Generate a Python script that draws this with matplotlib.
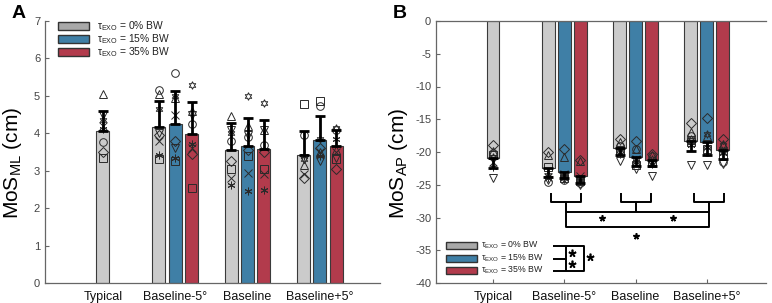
import matplotlib
matplotlib.use("Agg")
import matplotlib.pyplot as plt
from matplotlib.patches import Rectangle
import numpy as np

plt.rcParams['font.family'] = ['Liberation Sans', 'DejaVu Sans']
plt.rcParams['mathtext.fontset'] = 'custom'
plt.rcParams['mathtext.rm'] = 'Liberation Sans'
plt.rcParams['mathtext.default'] = 'regular'
plt.rcParams['axes.unicode_minus'] = False

categories = ["Typical", "Baseline-5°", "Baseline", "Baseline+5°"]
conditions = ["0% BW", "15% BW", "35% BW"]
colors = ["#cbcbcb", "#3f7fa6", "#b23b4c"]
legend_colors = ["#a9a9a9", "#3f7fa6", "#b23b4c"]

# subject markers (one per participant)
subject_markers = ['^', 'o', 's', 'D', 'v', 'x', (6, 2, 0), (6, 1, 0)]

# ---- Panel A: MoS_ML (cm) ----
ml_mean = {"Typical": [4.05],
           "Baseline-5°": [4.17, 4.25, 3.98],
           "Baseline": [3.55, 3.66, 3.58],
           "Baseline+5°": [3.42, 3.82, 3.67]}
ml_sd = {"Typical": [0.55],
         "Baseline-5°": [0.70, 0.87, 0.85],
         "Baseline": [0.73, 0.74, 0.77],
         "Baseline+5°": [0.63, 0.63, 0.43]}
# subject values, order matches subject_markers
ml_subj = {"Typical": [[5.05, 3.77, 3.33, 3.50, 4.50, 4.20, 4.12, 4.35]],
           "Baseline-5°": [[5.05, 5.15, 3.30, 3.95, 4.00, 3.80, 3.42, 4.65],
                           [4.95, 5.60, 3.25, 3.80, 3.60, 4.50, 3.35, 5.00],
                           [4.60, 4.25, 2.55, 3.45, 4.50, 3.60, 3.72, 5.30]],
           "Baseline": [[4.45, 3.80, 3.05, 3.25, 4.10, 2.80, 2.62, 4.00],
                        [4.20, 3.90, 3.40, 3.55, 3.95, 2.95, 2.47, 5.00],
                        [4.10, 3.70, 3.05, 3.50, 4.10, 2.90, 2.48, 4.82]],
           "Baseline+5°": [[3.15, 3.95, 4.78, 2.80, 3.30, 2.90, 3.40, 3.30],
                           [3.50, 4.72, 4.85, 3.60, 3.25, 3.50, 3.40, 3.85],
                           [3.55, 4.10, 3.30, 3.05, 3.35, 3.50, 3.85, 4.15]]}

# ---- Panel B: MoS_AP (cm) ----
ap_mean = {"Typical": [-20.9],
           "Baseline-5°": [-22.5, -23.0, -23.7],
           "Baseline": [-19.4, -20.7, -21.2],
           "Baseline+5°": [-18.3, -18.4, -19.7]}
ap_sd = {"Typical": [1.5],
         "Baseline-5°": [1.3, 1.0, 1.1],
         "Baseline": [1.0, 1.5, 1.0],
         "Baseline+5°": [1.5, 2.0, 1.4]}
ap_subj = {"Typical": [[-19.8, -20.2, -20.5, -19.0, -24.0, -21.5, -22.3, -20.8]],
           "Baseline-5°": [[-20.5, -24.6, -22.3, -20.0, -24.2, -23.8, -24.0, -23.5],
                           [-20.7, -24.3, -24.0, -19.6, -24.1, -23.3, -24.0, -23.8],
                           [-21.4, -24.8, -24.5, -21.2, -25.0, -23.7, -24.2, -24.4]],
           "Baseline": [[-18.5, -19.1, -19.8, -18.0, -21.3, -20.0, -20.3, -19.5],
                        [-19.5, -19.5, -22.0, -18.3, -22.6, -21.0, -21.5, -21.2],
                        [-20.5, -20.6, -21.7, -20.3, -23.6, -21.5, -21.8, -21.0]],
           "Baseline+5°": [[-17.0, -17.6, -18.5, -15.5, -22.0, -18.3, -19.0, -18.0],
                           [-17.5, -20.0, -19.5, -14.8, -22.0, -18.8, -19.3, -17.2],
                           [-18.8, -21.5, -20.5, -18.0, -21.8, -19.8, -20.2, -19.0]]}

x_pos = np.arange(1, len(categories) + 1)
offset = 0.225
width = 0.18

W, H = 772, 303
fig = plt.figure(figsize=(W / 100, H / 100), dpi=100)
axA = fig.add_axes([45/W, 20/H, 335/W, 262/H])
axB = fig.add_axes([436/W, 20/H, 330/W, 262/H])


def draw(ax, means, sds, subj, negative):
    for ci, cat in enumerate(categories):
        n = len(means[cat])
        offs = [0.0] if n == 1 else [-offset, 0.0, offset]
        for k in range(n):
            xc = x_pos[ci] + offs[k]
            m = means[cat][k]
            ax.bar(xc, m, width=width, color=colors[k], edgecolor='#3a3a3a',
                   linewidth=0.8, zorder=2)
            for mk, v in zip(subject_markers, subj[cat][k]):
                ax.plot(xc, v, marker=mk, markersize=5.5, markerfacecolor='none',
                        markeredgecolor='#2a2a2a', markeredgewidth=0.7,
                        linestyle='none', zorder=3)
            s = sds[cat][k]
            yerr = [[s], [0]] if negative else [[0], [s]]
            ax.errorbar(xc, m, yerr=yerr, fmt='none', ecolor='black',
                        elinewidth=2, capsize=3.5, capthick=2, zorder=4)


draw(axA, ml_mean, ml_sd, ml_subj, False)
draw(axB, ap_mean, ap_sd, ap_subj, True)

for ax in (axA, axB):
    ax.set_xlim(0.2, 4.83)
    ax.set_xticks(x_pos)
    ax.set_xticklabels(categories, fontsize=9, color='#111111')
    ax.spines['right'].set_visible(False)
    for sp in ('left', 'bottom', 'top'):
        ax.spines[sp].set_color('#666666')
        ax.spines[sp].set_linewidth(0.9)
    ax.tick_params(axis='both', direction='in', length=3, color='#666666',
                   labelsize=8, labelcolor='#444444')
    ax.tick_params(axis='x', labelsize=9, labelcolor='#111111', pad=6)

axA.spines['top'].set_visible(False)
axA.set_ylim(0, 7)
axA.set_yticks(range(0, 8))
axA.set_ylabel("MoS$_{ML}$ (cm)", fontsize=15, va='center', ha='center')
axA.yaxis.set_label_coords((13 - 45) / 335, (283 - 163) / 262)

axB.set_ylim(-40, 0)
axB.set_yticks(range(-40, 1, 5))
axB.set_ylabel("MoS$_{AP}$ (cm)", fontsize=15, va='center', ha='center')
axB.yaxis.set_label_coords((398 - 436) / 330, (283 - 163) / 262)

# manual legends (pixel placement)
labels = ["τ$_{EXO}$ = " + c for c in conditions]


def px_legend(x0, rows, text_x, fs, ph):
    for i, yc in enumerate(rows):
        fig.patches.append(Rectangle((x0 / W, 1 - (yc + ph / 2) / H), 31 / W, ph / H,
                                     transform=fig.transFigure,
                                     facecolor=legend_colors[i],
                                     edgecolor='#333333', linewidth=1.0))
        fig.text(text_x / W, 1 - yc / H, labels[i], fontsize=fs,
                 color='#222222', va='center', ha='left')


px_legend(58, [26, 39, 52], 97, 7.4, 8)
px_legend(446, [245.7, 258.7, 270.7], 481, 6.3, 7)

# significance annotations panel B
lk = dict(color='black', linewidth=1.4, solid_capstyle='butt', zorder=5)
star = dict(marker=(5, 2, 0), color='black', markeredgewidth=1.2,
            linestyle='none', zorder=6)
braces = [(1.820, 2.237, 2.028), (2.796, 3.213, 3.008), (3.823, 4.239, 4.027)]
for x0, x1, xc in braces:
    axB.plot([x0, x0, x1, x1], [-26.2, -27.6, -27.6, -26.2], **lk)
    axB.plot([xc, xc], [-27.6, -29.1], **lk)
axB.plot([2.028, 4.027, 4.027, 2.028, 2.028],
         [-29.1, -29.1, -31.5, -31.5, -29.1], **lk)
axB.plot([2.536, 3.53, 3.008], [-30.0, -30.0, -32.8], markersize=4.5, **star)

# legend comparison bracket
axB.plot([1.839, 2.282, 2.282, 1.839], [-34.3, -34.3, -38.1, -38.1], **lk)
axB.plot([2.028, 2.028], [-34.3, -38.1], **lk)
axB.plot([1.839, 2.028], [-36.3, -36.3], **lk)
axB.plot([2.112, 2.112, 2.366], [-35.4, -37.1, -36.0], markersize=5.5, **star)

fig.text(12/W, 1 - 14/H, 'A', fontsize=14, fontweight='bold', va='center')
fig.text(393/W, 1 - 14/H, 'B', fontsize=14, fontweight='bold', va='center')

fig.savefig('out.png', dpi=100)
